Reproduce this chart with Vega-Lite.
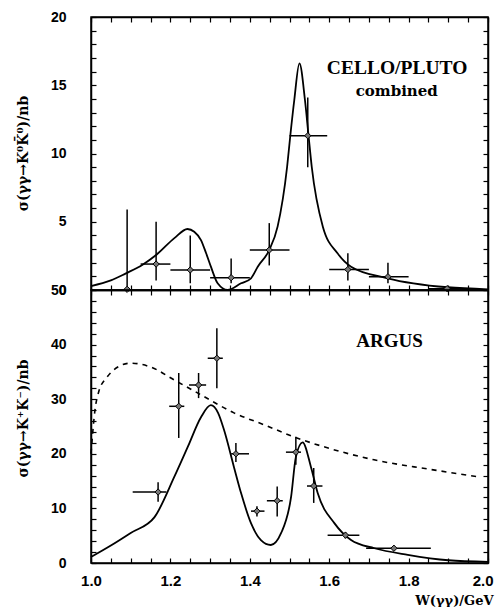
{
  "$schema": "https://vega.github.io/schema/vega-lite/v6.json",
  "padding": {"left": 15, "top": 9, "right": 5, "bottom": 5},
  "background": "white",
  "spacing": 0,
  "bounds": "flush",
  "config": {
    "view": {"stroke": "black", "strokeWidth": 1.5},
    "axis": {
      "domainColor": "black", "domainWidth": 1.5, "tickColor": "black", "tickWidth": 1.2,
      "grid": false, "labelFont": "Liberation Sans", "labelFontWeight": "bold", "labelColor": "black",
      "titleFont": "DejaVu Serif", "titleFontWeight": "bold", "titleColor": "black",
      "labelOverlap": false, "labelFlush": false
    }
  },
  "vconcat": [
    {
      "width": 397, "height": 273,
      "resolve": {"axis": {"x": "independent", "y": "independent"}},
      "layer": [
        {
          "data": {"values": [
            {"W": 1.0, "s": 0.29}, {"W": 1.05, "s": 0.7}, {"W": 1.088, "s": 1.22}, {"W": 1.13, "s": 1.85},
            {"W": 1.164, "s": 2.56}, {"W": 1.21, "s": 3.8}, {"W": 1.243, "s": 4.47}, {"W": 1.26, "s": 4.27},
            {"W": 1.277, "s": 3.66}, {"W": 1.29, "s": 2.69}, {"W": 1.302, "s": 1.71}, {"W": 1.319, "s": 0.49},
            {"W": 1.344, "s": 0.0}, {"W": 1.378, "s": 0.49}, {"W": 1.403, "s": 0.86}, {"W": 1.42, "s": 1.71},
            {"W": 1.449, "s": 2.93}, {"W": 1.47, "s": 4.64}, {"W": 1.494, "s": 9.03}, {"W": 1.502, "s": 11.3},
            {"W": 1.512, "s": 13.9}, {"W": 1.525, "s": 16.6}, {"W": 1.539, "s": 13.9}, {"W": 1.548, "s": 11.3},
            {"W": 1.556, "s": 9.03}, {"W": 1.584, "s": 4.64}, {"W": 1.621, "s": 2.69}, {"W": 1.655, "s": 1.71},
            {"W": 1.747, "s": 0.86}, {"W": 1.898, "s": 0.2}, {"W": 2.0, "s": 0.05}
          ]},
          "mark": {"type": "line", "color": "black", "strokeWidth": 1.8, "interpolate": "monotone"},
          "encoding": {
            "x": {"field": "W", "type": "quantitative", "scale": {"domain": [1, 2], "nice": false, "zero": false},
              "axis": {"orient": "bottom", "values": [1.0,1.05,1.1,1.15,1.2,1.25,1.3,1.35,1.4,1.45,1.5,1.55,1.6,1.65,1.7,1.75,1.8,1.85,1.9,1.95,2.0], "labels": false, "tickSize": -5, "title": null}},
            "y": {"field": "s", "type": "quantitative", "scale": {"domain": [0, 20], "nice": false},
              "axis": {"orient": "left", "values": [0,1,2,3,4,5,6,7,8,9,10,11,12,13,14,15,16,17,18,19,20],
                "labelExpr": "datum.value % 5 == 0 ? datum.label : ''", "tickSize": -5, "labelPadding": 30, "labelFontSize": 14,
                "title": "σ(γγ→K⁰K̄⁰)/nb", "titleFontSize": 14, "titleAngle": -90, "titleX": -68, "titleY": 136, "titleAlign": "center", "titleBaseline": "middle"}}
          }
        },
        {
          "data": {"name": "ptsTop", "values": [
            {"W": 1.091, "s": 0.05, "lo": 0, "hi": 5.9, "xlo": 1.091, "xhi": 1.091},
            {"W": 1.164, "s": 1.9, "lo": 0.7, "hi": 5.0, "xlo": 1.125, "xhi": 1.2},
            {"W": 1.25, "s": 1.47, "lo": 0.5, "hi": 4.0, "xlo": 1.2, "xhi": 1.3},
            {"W": 1.353, "s": 0.9, "lo": 0.5, "hi": 2.3, "xlo": 1.3, "xhi": 1.4},
            {"W": 1.449, "s": 2.93, "lo": 1.8, "hi": 4.9, "xlo": 1.4, "xhi": 1.5},
            {"W": 1.546, "s": 11.3, "lo": 9.0, "hi": 14.1, "xlo": 1.5, "xhi": 1.595},
            {"W": 1.647, "s": 1.5, "lo": 0.7, "hi": 2.7, "xlo": 1.6, "xhi": 1.7},
            {"W": 1.748, "s": 0.97, "lo": 0.5, "hi": 2.0, "xlo": 1.7, "xhi": 1.8},
            {"W": 1.897, "s": 0.1, "lo": 0.0, "hi": 0.3, "xlo": 1.85, "xhi": 1.95}
          ]},
          "mark": {"type": "rule", "color": "black", "strokeWidth": 1.5},
          "encoding": {
            "x": {"field": "W", "type": "quantitative",
              "axis": {"orient": "top", "values": [1.0,1.05,1.1,1.15,1.2,1.25,1.3,1.35,1.4,1.45,1.5,1.55,1.6,1.65,1.7,1.75,1.8,1.85,1.9,1.95,2.0], "labels": false, "tickSize": -5, "title": null}},
            "y": {"field": "lo", "type": "quantitative",
              "axis": {"orient": "right", "values": [0,1,2,3,4,5,6,7,8,9,10,11,12,13,14,15,16,17,18,19,20], "labels": false, "tickSize": -5, "title": null}},
            "y2": {"field": "hi"}
          }
        },
        {
          "data": {"name": "ptsTop"},
          "mark": {"type": "rule", "color": "black", "strokeWidth": 1.5},
          "encoding": {
            "x": {"field": "xlo", "type": "quantitative", "axis": null},
            "x2": {"field": "xhi"},
            "y": {"field": "s", "type": "quantitative", "axis": null}
          }
        },
        {
          "data": {"name": "ptsTop"},
          "mark": {"type": "point", "shape": "diamond", "filled": true, "fill": "#777777", "stroke": "black", "strokeWidth": 1, "size": 40, "opacity": 1},
          "encoding": {
            "x": {"field": "W", "type": "quantitative", "axis": null},
            "y": {"field": "s", "type": "quantitative", "axis": null}
          }
        },
        {
          "data": {"values": [{"W": 1.771, "s": 16.3, "t": "CELLO/PLUTO"}]},
          "mark": {"type": "text", "font": "Liberation Serif", "fontWeight": "bold", "fontSize": 19.5, "color": "black", "align": "center", "baseline": "middle"},
          "encoding": {
            "x": {"field": "W", "type": "quantitative", "axis": null},
            "y": {"field": "s", "type": "quantitative", "axis": null},
            "text": {"field": "t"}
          }
        },
        {
          "data": {"values": [{"W": 1.77, "s": 14.6, "t": "combined"}]},
          "mark": {"type": "text", "font": "DejaVu Serif", "fontWeight": "bold", "fontSize": 15, "color": "black", "align": "center", "baseline": "middle"},
          "encoding": {
            "x": {"field": "W", "type": "quantitative", "axis": null},
            "y": {"field": "s", "type": "quantitative", "axis": null},
            "text": {"field": "t"}
          }
        }
      ]
    },
    {
      "width": 397, "height": 273,
      "resolve": {"axis": {"x": "independent", "y": "independent"}},
      "layer": [
        {
          "data": {"values": [
            {"W": 1.0, "s": 1.1}, {"W": 1.05, "s": 3.2}, {"W": 1.1, "s": 5.5}, {"W": 1.16, "s": 8.4},
            {"W": 1.21, "s": 15.8}, {"W": 1.244, "s": 21.3}, {"W": 1.277, "s": 26.7}, {"W": 1.302, "s": 28.9},
            {"W": 1.32, "s": 27.5}, {"W": 1.335, "s": 24.4}, {"W": 1.36, "s": 17.6}, {"W": 1.378, "s": 12.8},
            {"W": 1.403, "s": 7.3}, {"W": 1.428, "s": 4.2}, {"W": 1.453, "s": 3.3}, {"W": 1.479, "s": 5.5},
            {"W": 1.504, "s": 12.1}, {"W": 1.516, "s": 19.4}, {"W": 1.533, "s": 22.1}, {"W": 1.554, "s": 17.6},
            {"W": 1.571, "s": 12.8}, {"W": 1.613, "s": 7.3}, {"W": 1.655, "s": 4.2}, {"W": 1.714, "s": 2.7},
            {"W": 1.798, "s": 1.5}, {"W": 1.9, "s": 0.5}, {"W": 2.0, "s": 0.2}
          ]},
          "mark": {"type": "line", "color": "black", "strokeWidth": 1.8, "interpolate": "monotone"},
          "encoding": {
            "x": {"field": "W", "type": "quantitative", "scale": {"domain": [1, 2], "nice": false, "zero": false},
              "axis": {"orient": "bottom", "values": [1.0,1.05,1.1,1.15,1.2,1.25,1.3,1.35,1.4,1.45,1.5,1.55,1.6,1.65,1.7,1.75,1.8,1.85,1.9,1.95,2.0],
                "labelExpr": "round(datum.value*100) % 20 == 0 ? format(datum.value, '.1f') : ''", "tickSize": -5, "labelPadding": 15, "labelFontSize": 15,
                "labelAlign": {"condition": {"test": "datum.value >= 1.99", "value": "right"}, "value": "center"},
                "labelOffset": {"condition": {"test": "datum.value >= 1.99", "value": 5}, "value": 0},
                "title": "W(γγ)/GeV", "titleFontSize": 13, "titleX": 402, "titleY": 41, "titleAlign": "right", "titleBaseline": "alphabetic"}},
            "y": {"field": "s", "type": "quantitative", "scale": {"domain": [0, 50], "nice": false},
              "axis": {"orient": "left", "values": [0,2,4,6,8,10,12,14,16,18,20,22,24,26,28,30,32,34,36,38,40,42,44,46,48,50],
                "labelExpr": "datum.value % 10 == 0 ? datum.label : ''", "tickSize": -5, "labelPadding": 30, "labelFontSize": 14,
                "title": "σ(γγ→K⁺K⁻)/nb", "titleFontSize": 14, "titleAngle": -90, "titleX": -68, "titleY": 128, "titleAlign": "center", "titleBaseline": "middle"}}
          }
        },
        {
          "data": {"values": [
            {"W": 1.0, "s": 20}, {"W": 1.01, "s": 28}, {"W": 1.02, "s": 31.5}, {"W": 1.04, "s": 34},
            {"W": 1.07, "s": 36}, {"W": 1.1, "s": 36.6}, {"W": 1.15, "s": 35.9}, {"W": 1.21, "s": 33.5},
            {"W": 1.277, "s": 30.8}, {"W": 1.36, "s": 27.5}, {"W": 1.44, "s": 25.2}, {"W": 1.511, "s": 23.1},
            {"W": 1.6, "s": 21}, {"W": 1.713, "s": 18.9}, {"W": 1.85, "s": 17.2}, {"W": 1.975, "s": 15.8}
          ]},
          "mark": {"type": "line", "color": "black", "strokeWidth": 1.6, "strokeDash": [5, 5], "interpolate": "monotone"},
          "encoding": {
            "x": {"field": "W", "type": "quantitative", "axis": null},
            "y": {"field": "s", "type": "quantitative", "axis": null}
          }
        },
        {
          "data": {"name": "ptsBot", "values": [
            {"W": 1.169, "s": 13.0, "lo": 11.2, "hi": 14.8, "xlo": 1.105, "xhi": 1.19},
            {"W": 1.221, "s": 28.7, "lo": 22.9, "hi": 34.8, "xlo": 1.197, "xhi": 1.235},
            {"W": 1.271, "s": 32.6, "lo": 30.2, "hi": 34.8, "xlo": 1.247, "xhi": 1.29},
            {"W": 1.317, "s": 37.5, "lo": 32.0, "hi": 43.0, "xlo": 1.294, "xhi": 1.332},
            {"W": 1.365, "s": 20.0, "lo": 18.5, "hi": 22.0, "xlo": 1.353, "xhi": 1.398},
            {"W": 1.418, "s": 9.5, "lo": 8.5, "hi": 10.4, "xlo": 1.403, "xhi": 1.437},
            {"W": 1.469, "s": 11.4, "lo": 8.5, "hi": 14.0, "xlo": 1.443, "xhi": 1.483},
            {"W": 1.516, "s": 20.3, "lo": 18.0, "hi": 23.1, "xlo": 1.491, "xhi": 1.529},
            {"W": 1.561, "s": 14.1, "lo": 11.0, "hi": 17.4, "xlo": 1.544, "xhi": 1.583},
            {"W": 1.641, "s": 5.1, "lo": 4.5, "hi": 5.7, "xlo": 1.596, "xhi": 1.676},
            {"W": 1.763, "s": 2.7, "lo": 2.2, "hi": 3.2, "xlo": 1.693, "xhi": 1.856}
          ]},
          "mark": {"type": "rule", "color": "black", "strokeWidth": 1.5},
          "encoding": {
            "x": {"field": "W", "type": "quantitative",
              "axis": {"orient": "top", "values": [1.0,1.05,1.1,1.15,1.2,1.25,1.3,1.35,1.4,1.45,1.5,1.55,1.6,1.65,1.7,1.75,1.8,1.85,1.9,1.95,2.0], "labels": false, "tickSize": -5, "title": null}},
            "y": {"field": "lo", "type": "quantitative",
              "axis": {"orient": "right", "values": [0,2,4,6,8,10,12,14,16,18,20,22,24,26,28,30,32,34,36,38,40,42,44,46,48,50], "labels": false, "tickSize": -5, "title": null}},
            "y2": {"field": "hi"}
          }
        },
        {
          "data": {"name": "ptsBot"},
          "mark": {"type": "rule", "color": "black", "strokeWidth": 1.5},
          "encoding": {
            "x": {"field": "xlo", "type": "quantitative", "axis": null},
            "x2": {"field": "xhi"},
            "y": {"field": "s", "type": "quantitative", "axis": null}
          }
        },
        {
          "data": {"name": "ptsBot"},
          "mark": {"type": "point", "shape": "diamond", "filled": true, "fill": "#777777", "stroke": "black", "strokeWidth": 1, "size": 40, "opacity": 1},
          "encoding": {
            "x": {"field": "W", "type": "quantitative", "axis": null},
            "y": {"field": "s", "type": "quantitative", "axis": null}
          }
        },
        {
          "data": {"values": [{"W": 1.752, "s": 40.7, "t": "ARGUS"}]},
          "mark": {"type": "text", "font": "Liberation Serif", "fontWeight": "bold", "fontSize": 19, "color": "black", "align": "center", "baseline": "middle"},
          "encoding": {
            "x": {"field": "W", "type": "quantitative", "axis": null},
            "y": {"field": "s", "type": "quantitative", "axis": null},
            "text": {"field": "t"}
          }
        }
      ]
    }
  ]
}
